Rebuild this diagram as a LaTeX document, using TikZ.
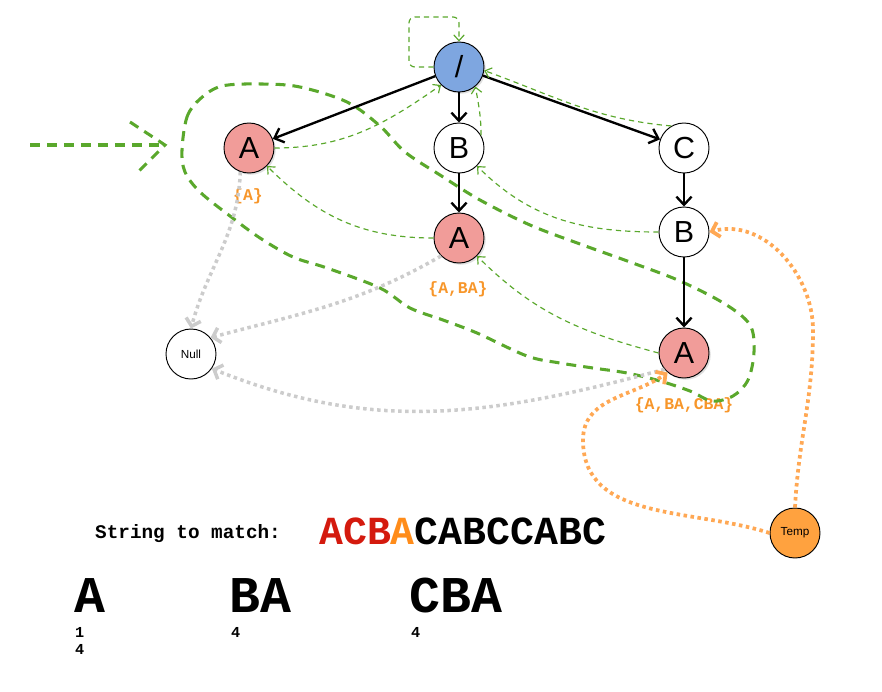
\documentclass[tikz,border=0pt]{standalone}
\usepackage{fontspec}
\setmainfont{Liberation Sans}
\newfontfamily\cour{Liberation Mono}
\usetikzlibrary{positioning,arrows.meta,shadows}

\definecolor{rootblue}{HTML}{7EA6E0}
\definecolor{hitpink}{HTML}{F19C99}
\definecolor{tmpfill}{HTML}{FFA23F}
\definecolor{failgreen}{HTML}{5AA82C}
\definecolor{nullgray}{HTML}{CCCCCC}
\definecolor{tmpline}{HTML}{FFA854}
\definecolor{setorange}{HTML}{F7962A}
\definecolor{hitred}{HTML}{D41A0E}
\definecolor{curorange}{HTML}{FF8C1A}

\tikzset{
  st/.style={circle, draw, line width=0.8pt, minimum size=1.5cm, inner sep=0pt,
    font=\fontsize{26}{30}\selectfont},
  shade/.style={drop shadow={shadow xshift=1.5pt, shadow yshift=-1.5pt, opacity=0.25}},
  hit/.style={st, fill=hitpink, shade},
  small/.style={st, font=\fontsize{10}{12}\selectfont},
  trie/.style={line width=2pt, -{Straight Barb[length=7pt,width=13pt]}},
  fail/.style={failgreen, line width=1pt, dash pattern=on 4.5pt off 3.5pt,
    -{Straight Barb[length=5pt,width=9pt]}},
  tour/.style={failgreen, line width=2.6pt, dash pattern=on 8.5pt off 6pt},
  nul/.style={nullgray, line width=3pt, dash pattern=on 3pt off 3pt,
    -{Straight Barb[length=6pt,width=13pt]}},
  tmp/.style={tmpline, line width=3.2pt, dash pattern=on 3pt off 3pt,
    -{Straight Barb[length=6pt,width=13pt]}},
  setlbl/.style={text=setorange, inner sep=0pt, font=\cour\bfseries\fontsize{14}{16}\selectfont},
  txt/.style={inner sep=0pt, anchor=base west},
}

\begin{document}
\begin{tikzpicture}[x=0.03cm, y=-0.03cm]
\useasboundingbox (0,0) rectangle (882,692);
\def\xl{249}
\def\xm{459}
\def\xr{684}
\def\ya{67}
\def\yb{148}
\def\yc{235}
\def\yd{353}

\node[st, fill=rootblue, shade] (r) at (\xm, \ya) {/};
\node[hit] (a) at (\xl, \yb) {A};
\node[st] (b) at (\xm, \yb) {B};
\node[st] (c) at (\xr, \yb) {C};
\node[hit] (ba) at (\xm, 238) {A};
\node[st] (cb) at (\xr, 232) {B};
\node[hit] (cba) at (\xr, \yd) {A};
\node[small] (null) at (191, 354) {Null};
\node[small, fill=tmpfill] (tmp) at (795, 533) {Temp};

\node[setlbl] at (248, 196) {\{A\}};
\node[setlbl] at (458, 289) {\{A,BA\}};
\node[setlbl] at (684, 405) {\{A,BA,CBA\}};

\draw[tour] plot[smooth cycle, tension=0.55] coordinates {
  (182,150) (187,117) (200,99) (222,86) (262,84) (300,87) (347,102) (380,126)
  (405,152) (440,175) (480,200) (530,225) (580,244) (630,262) (680,281)
  (725,304) (750,325) (754,352) (748,380) (733,396) (712,401) (690,391)
  (660,381) (627,373) (593,368) (560,363) (527,356) (477,333) (443,320)
  (410,308) (380,288) (327,268) (293,257) (260,238) (230,216) (200,192) (185,172)};
\coordinate (in0) at (30,145);
\coordinate (in1) at (165,145);
\draw[tour] (in0) -- (in1);
\draw[tour] (in1) ++(-35,-23) -- (in1) -- ++(-27,27);

\draw[trie] (r) -- (a);
\draw[trie] (r) -- (b);
\draw[trie] (r) -- (c);
\draw[trie] (b) -- (ba);
\draw[trie] (c) -- (cb);
\draw[trie] (cb) -- (cba);

\draw[fail, rounded corners=5] (r.west) -| (409,17) -| (r.north);
\draw[fail] (a.east) to[out=0, in=215] (r.225);
\draw[fail] (b.30) to[out=90, in=-80] (r.-50);
\draw[fail] (c.120) to[out=175, in=-20] (r.-8);
\draw[fail] (ba.west) to[out=180, in=-45] (a.-45);
\draw[fail] (cb.west) to[out=180, in=-45] (b.-45);
\draw[fail] (cba.west) to[out=165, in=-45] (ba.-45);

\draw[nul] (a.-110) to[out=-92, in=75] (null.north);
\draw[nul] (ba.-135) to[out=210, in=15] (null.40);
\draw[nul] (cba.-140) to[out=195, in=-22] (null.-35);

\draw[tmp] (tmp.north) to[out=87, in=-90] (813,330) to[out=90, in=15] (cb.east);
\draw[tmp] (tmp.west) to[out=162, in=-90] (583,440) to[out=90, in=-145] (cba.-130);

\node[txt, font=\cour\bfseries\fontsize{16.5}{20}\selectfont] (lbl) at (95,538) {String to match:};
\node[txt, font=\cour\bfseries\fontsize{34}{40}\selectfont] (str) at (319,544)
  {\textcolor{hitred}{ACB}\textcolor{curorange}{A}CABCCABC};
\node[txt, font=\cour\bfseries\fontsize{44}{50}\selectfont] (wa) at (74,612) {A};
\node[txt, font=\cour\bfseries\fontsize{44}{50}\selectfont] (wba) at (229,612) {BA};
\node[txt, font=\cour\bfseries\fontsize{44}{50}\selectfont] (wcba) at (409,612) {CBA};
\node[txt, font=\cour\bfseries\fontsize{13}{15}\selectfont] at (75,637) {1};
\node[txt, font=\cour\bfseries\fontsize{13}{15}\selectfont] at (75,654) {4};
\node[txt, font=\cour\bfseries\fontsize{13}{15}\selectfont] at (231,637) {4};
\node[txt, font=\cour\bfseries\fontsize{13}{15}\selectfont] at (411,637) {4};
\end{tikzpicture}
\end{document}
